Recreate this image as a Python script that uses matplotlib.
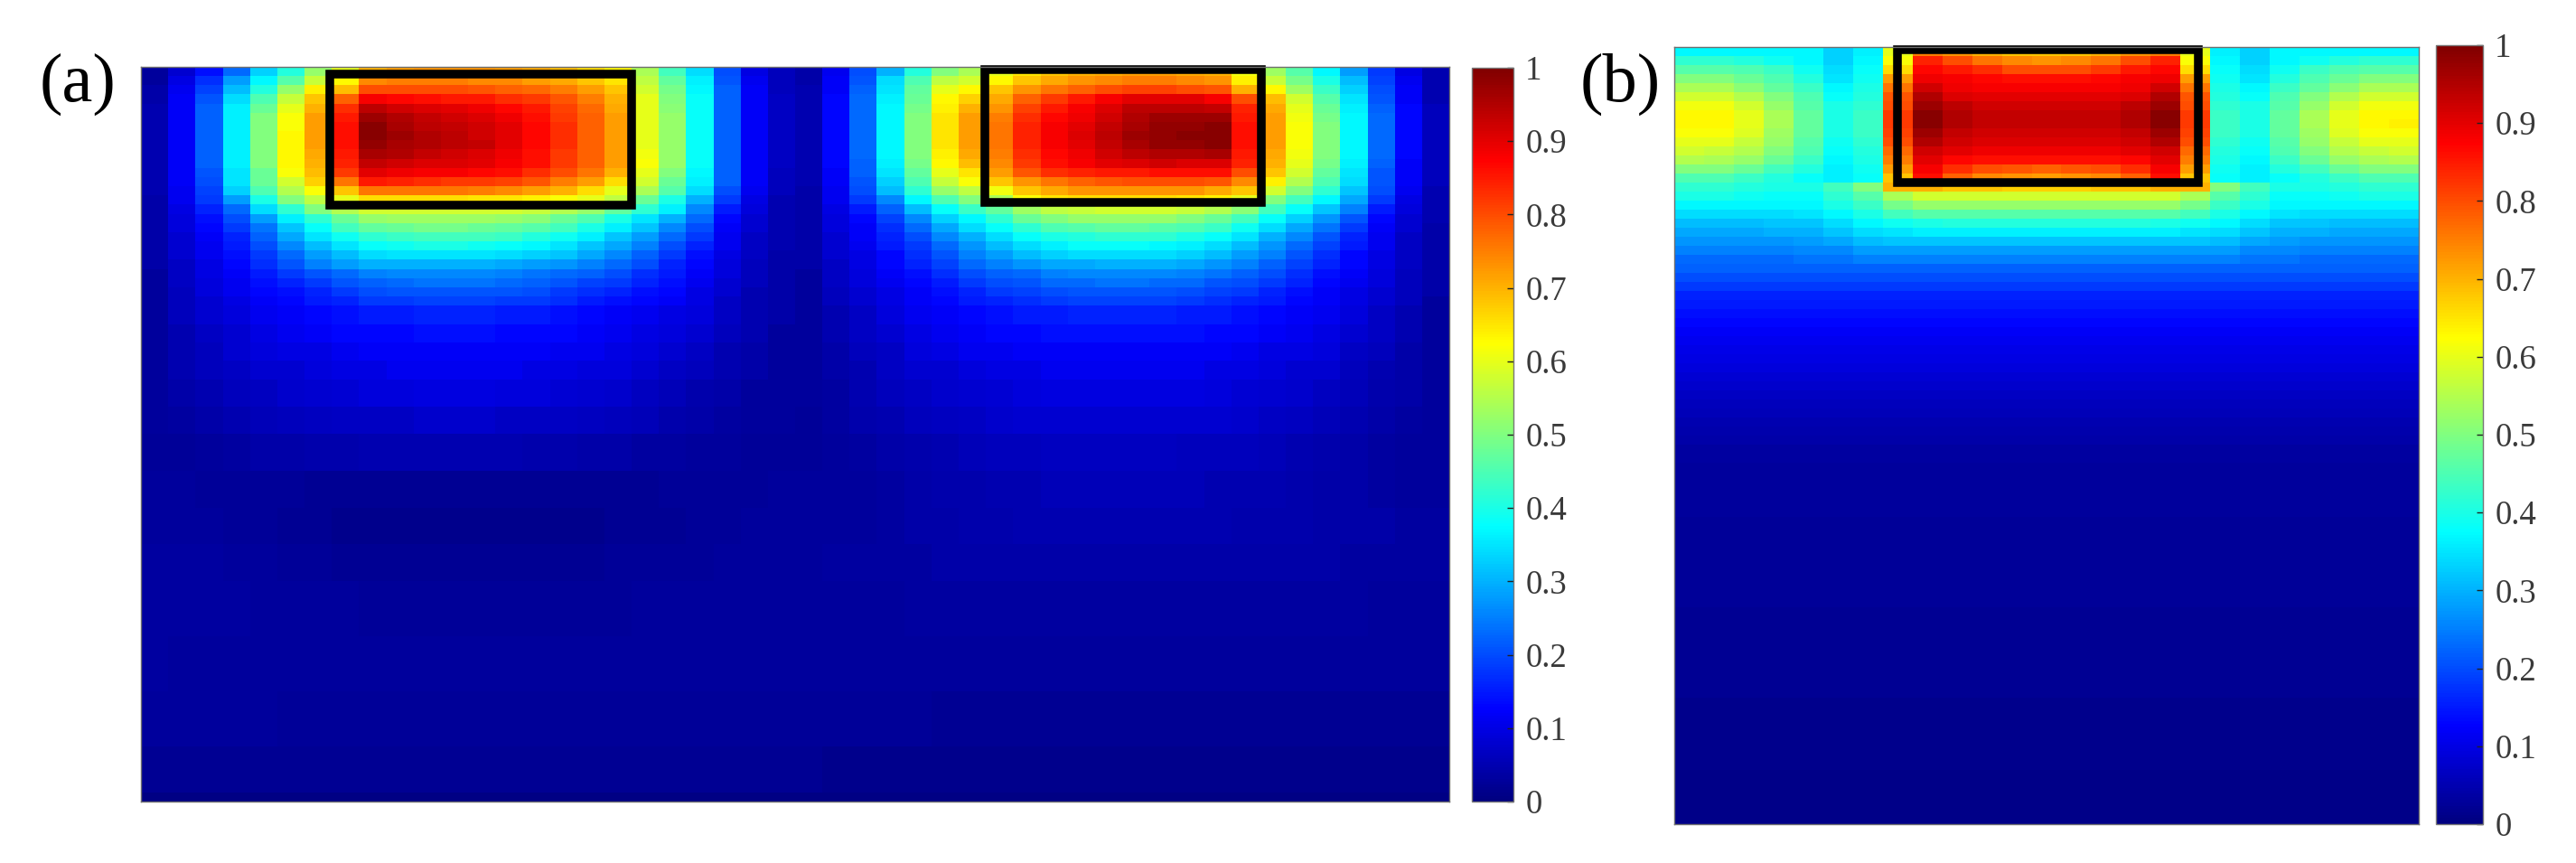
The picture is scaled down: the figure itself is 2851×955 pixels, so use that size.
"""Normalised intensity maps, panels (a) and (b), with the source boxes drawn on top."""

import matplotlib
matplotlib.use("Agg")
import matplotlib.pyplot as plt
import numpy as np
from matplotlib.colors import LinearSegmentedColormap
from matplotlib.patches import Rectangle

W, H = 2851, 955

CBAR_TICKS = [0, 0.1, 0.2, 0.3, 0.4, 0.5, 0.6, 0.7, 0.8, 0.9, 1]
CBAR_LABELS = ["0", "0.1", "0.2", "0.3", "0.4", "0.5", "0.6", "0.7", "0.8", "0.9", "1"]

# row edges of panel a, the rows get coarser with depth
A_ROW_EDGES = list(range(0, 27)) + [28, 30, 32, 34, 37, 40, 44, 48, 52, 56, 62, 68, 74, 79, 80]

# panel a, percent of peak (48 columns)
A_VALUES = [
    [3,8,14,23,33,41,52,60,70,72,73,73,73,72,71,69,66,63,54,44,34,20,10,6,4, 11,20,30,41,50,54,60,65,68,70,71,72,72,71,70,61,53,46,37,28,18,10,5],
    [3,10,17,28,37,46,57,63,74,75,75,75,74,74,72,71,68,65,56,47,36,21,11,6,4, 12,21,34,45,56,58,63,68,71,73,74,75,75,74,73,64,57,49,40,31,19,11,5],
    [4,11,19,31,41,52,64,69,80,80,80,80,79,78,77,75,72,68,58,49,37,22,12,6,5, 12,22,35,47,60,63,68,73,76,78,80,81,81,80,79,70,63,53,43,33,20,12,5],
    [4,12,21,34,45,57,68,78,88,87,86,85,85,83,82,79,75,70,60,50,38,22,12,7,5, 13,23,36,48,63,67,71,78,82,85,88,90,90,90,88,80,69,58,46,35,21,12,5],
    [5,12,22,36,48,60,70,83,94,92,91,90,89,87,85,81,77,71,60,51,38,22,12,7,5, 13,23,37,49,64,70,73,81,85,88,91,94,94,94,93,84,71,60,48,36,22,13,6],
    [5,12,22,36,50,62,72,85,97,95,93,92,91,89,86,82,78,72,60,52,38,22,12,7,5, 13,23,37,50,65,72,75,83,87,89,92,95,97,97,97,85,72,61,49,37,23,13,6],
    [5,12,22,36,50,62,72,86,99,96,94,93,92,90,87,83,78,72,60,52,38,22,12,7,5, 13,23,37,50,65,72,76,84,88,90,93,96,98,98,99,86,72,62,50,37,23,13,6],
    [5,12,22,36,50,63,72,86,99,97,95,94,92,90,87,83,78,72,60,52,38,22,12,7,5, 13,23,37,50,65,72,76,84,88,91,94,97,98,99,99,86,72,62,50,37,23,13,6],
    [5,12,22,36,50,63,72,86,98,96,95,94,93,90,87,83,78,72,60,52,38,22,12,7,5, 13,23,37,50,65,72,76,84,88,90,93,96,98,98,99,86,72,62,50,37,23,13,6],
    [5,12,22,36,50,63,71,85,96,95,93,92,91,89,86,82,78,72,61,52,38,22,12,7,5, 13,23,37,50,64,71,75,83,87,89,92,94,95,95,96,85,71,61,50,37,23,13,6],
    [5,12,22,36,50,63,70,84,93,92,91,91,90,88,86,82,78,72,62,52,38,22,12,7,5, 13,22,36,49,63,69,74,82,86,88,90,91,92,91,91,84,70,60,49,36,22,12,6],
    [5,12,21,35,48,62,69,82,90,89,88,88,87,86,83,80,76,70,60,50,37,22,12,6,5, 12,22,35,47,60,65,72,79,83,84,85,85,86,86,86,80,68,58,47,35,21,12,6],
    [5,12,20,35,48,58,67,76,85,84,83,82,82,81,79,75,72,66,58,48,36,22,12,6,5, 12,21,33,45,57,62,68,73,76,78,79,80,80,80,79,74,64,55,45,34,21,12,6],
    [5,11,19,33,45,55,62,68,76,76,76,76,75,74,72,70,66,60,54,46,34,20,11,6,4, 11,20,31,42,52,56,61,68,71,73,73,73,73,73,71,68,58,50,42,32,20,11,5],
    [4,11,18,28,40,50,56,60,66,66,66,66,65,65,64,62,60,56,48,40,30,18,10,5,4, 11,18,26,37,45,50,54,62,65,66,66,66,66,65,64,60,50,44,37,29,18,10,5],
    [4,10,16,23,34,42,50,55,58,58,58,58,58,58,57,55,52,47,42,36,26,15,9,5,4, 10,15,22,31,38,43,47,53,56,57,58,58,58,57,55,51,44,38,32,25,15,9,5],
    [4,9,14,20,28,36,42,48,52,53,53,53,53,52,51,48,45,40,35,30,23,13,8,5,4, 9,13,19,26,33,37,42,48,50,52,52,52,52,50,48,44,38,33,27,21,13,8,5],
    [4,9,13,18,24,32,38,44,47,48,49,49,48,47,46,44,40,36,32,26,20,12,8,5,4, 9,12,17,23,29,34,38,42,45,46,47,47,46,45,43,39,34,29,24,18,12,8,4],
    [4,8,12,16,22,29,35,39,42,43,44,44,44,43,41,39,36,32,28,23,18,11,7,5,4, 8,12,16,20,26,30,34,38,40,41,42,42,42,40,38,35,30,26,21,16,11,7,4],
    [4,8,11,15,20,26,31,35,38,39,40,40,39,38,37,35,32,29,25,20,16,11,7,5,4, 8,11,15,18,23,27,31,34,36,38,38,38,37,36,34,31,27,23,19,15,11,7,4],
    [4,8,11,14,18,23,28,31,34,35,35,35,35,34,33,32,29,26,22,18,14,10,7,4,4, 8,10,13,17,21,25,28,31,33,34,34,34,34,33,31,28,25,21,17,13,10,7,4],
    [4,7,10,13,17,21,25,28,30,30,30,30,30,29,28,27,25,23,20,16,13,9,6,4,4, 7,10,13,16,19,23,25,27,29,29,30,30,30,29,27,25,22,19,16,13,10,7,4],
    [3,7,10,12,15,18,21,23,25,26,26,26,26,25,24,23,22,20,17,15,12,9,6,4,3, 7,9,12,14,17,20,22,23,25,26,26,26,26,25,24,22,20,17,14,12,9,6,4],
    [3,7,9,11,14,16,18,21,22,23,24,24,24,23,22,21,19,18,16,14,11,8,6,4,3, 7,9,11,13,15,18,20,21,23,23,24,24,23,23,21,20,18,16,13,11,9,6,4],
    [3,6,9,11,13,14,16,18,20,21,21,21,21,21,20,18,17,16,14,13,10,8,5,4,3, 6,8,10,12,14,16,18,19,20,21,21,21,21,20,19,18,16,14,12,10,8,6,4],
    [3,6,8,10,12,13,15,16,18,18,19,19,19,18,18,17,15,14,13,12,10,7,5,4,3, 6,8,10,12,13,15,16,17,18,19,19,19,19,18,17,16,15,13,12,10,8,6,3],
    [3,6,8,9,11,12,13,14,15,15,16,16,16,15,15,14,13,12,11,10,9,7,5,4,3, 5,7,9,11,12,13,14,15,15,16,16,16,16,15,15,14,13,12,11,9,7,5,3],
    [3,5,7,8,10,11,12,13,13,13,14,14,14,13,13,13,12,11,10,9,8,6,5,3,3, 5,7,8,10,11,12,13,13,14,14,14,14,14,14,13,13,12,11,10,8,7,5,3],
    [3,5,6,8,9,10,10,11,12,12,12,12,12,12,12,11,11,10,9,8,7,5,4,3,3, 4,6,7,9,10,11,11,12,12,12,12,12,12,12,12,11,10,10,9,7,6,4,3],
    [3,5,6,7,8,8,9,10,10,11,11,11,11,11,10,10,9,9,8,7,6,5,4,3,3, 4,5,7,8,8,9,10,10,11,11,11,11,11,11,10,10,9,8,8,6,5,4,3],
    [3,4,5,6,6.5,7.5,8,8.5,9,9,9.5,9.5,9.5,9,9,8.5,8,7.5,6.5,5.5,4.5,4,3,3,3, 3.5,5,6,7,7.5,8,8.5,9,9.5,9.5,9.5,9.5,9.5,9.5,9,8.5,8,7.5,6.5,5.5,4.5,4,3],
    [3,3.5,4,5,5.5,6,6.5,7,7,7,7.5,7.5,7.5,7,7,7,6.5,6,5.5,4.5,4,3.5,3,3,2.5, 3.5,4.5,5,6,6.5,7,7.5,8,8,8,8,8,8,8,8,7.5,7,6.5,5.5,5,4,3.5,3],
    [2.5,2.5,3,3.5,4,4,4.5,4.5,5,5,5,5,5,5,4.5,4.5,4,4,3.5,3.5,3,3,2.5,2.5,2.5, 3,3.5,4,4.5,5,5.5,6,6,6.5,6.5,6.5,6.5,6.5,6,6,6,5.5,5,4.5,4,3.5,3,3],
    [3,3,2.5,2.5,2.5,2.5,2,2,2,2,2,2,2,2,2,2,2,2,2,2.5,2.5,2.5,2.5,3,3, 3,3,3.5,4,4.5,4.5,5,5,5.5,5.5,5.5,5.5,5.5,5.5,5,5,5,4.5,4,4,3.5,3,3],
    [3,3,3,2.5,2.5,2,2,1.5,1.5,1.5,1.5,1.5,1.5,1.5,1.5,1.5,1.5,2,2,2,2.5,2.5,3,3,3, 3,3,3.5,4,4,4.5,4.5,5,5,5,5,5,5,5,5,4.5,4.5,4.5,4,4,4,3.5,3.5],
    [3.5,3.5,3.5,3,3,2.5,2.5,2,2,2,2,2,2,2,2,2,2,2.5,2.5,2.5,2.5,3,3,3,3, 3.5,3.5,3.5,3.5,4,4,4,4,4,4,4,4,4,4,4,4,4,4,4,3.5,3.5,3.5,3.5],
    [3.5,3.5,3.5,3.5,3,3,3,3,2.5,2.5,2.5,2.5,2.5,2.5,2.5,2.5,2.5,2.5,3,3,3,3,3,3,3, 3,3,3,3.5,3.5,3.5,3.5,3.5,3.5,3.5,3.5,3.5,3.5,3.5,3.5,3.5,3.5,3.5,3.5,3.5,3,3,3],
    [3.5,3,3,3,3,3,3,3,3,3,3,3,3,3,3,3,3,3,3,3,3,3,3,3,3, 3,3,3,3,3,3,3,3,3,3,3,3,3,3,3,3,3,3,3,3,3,3,3],
    [3,3,3,3,3,2.5,2.5,2.5,2.5,2.5,2.5,2.5,2.5,2.5,2.5,2.5,2.5,2.5,2.5,2.5,2.5,2.5,2.5,2.5,2.5, 2.5,2.5,2.5,2.5,2,2,2,2,2,2,2,2,2,2,2,2,2,2,2,2,2,2,2],
    [2,2,2,2,2,2,2,2,2,2,2,2,2,2,2,2,2,2,2,2,2,2,2,2,2, 1.5,1.5,1.5,1.5,1.5,1.5,1.5,1.5,1.5,1.5,1.5,1.5,1.5,1.5,1.5,1.5,1.5,1.5,1.5,1.5,1.5,1.5,1.5],
    [0.5,0.5,0.5,0.5,0.5,0.5,0.5,0.5,0.5,0.5,0.5,0.5,0.5,0.5,0.5,0.5,0.5,0.5,0.5,0.5,0.5,0.5,0.5,0.5,0.5, 0.5,0.5,0.5,0.5,0.5,0.5,0.5,0.5,0.5,0.5,0.5,0.5,0.5,0.5,0.5,0.5,0.5,0.5,0.5,0.5,0.5,0.5,0.5],
]

# panel b, top rows differ across the 25 columns
B_VALUES = [
    [37,37,37,37,37,33,36,60,75,73,70,68,68,68,70,73,75,60,36,33,37,37,37,37,37],
    [42,42,41,39,37,33,37,62,84,80,76,74,73,74,76,80,84,62,37,33,37,39,41,42,42],
    [46,46,45,43,39,34,38,66,87,85,83,80,80,80,82,85,87,66,38,34,39,43,45,46,46],
    [50,50,48,45,41,35,39,72,89,88,87,86,86,86,87,88,89,72,39,35,41,45,48,50,50],
    [54,54,51,47,43,37,40,76,92,89,88,88,88,88,88,89,92,76,40,37,43,47,51,54,54],
    [58,58,55,50,45,38,41,79,95,91,90,90,90,90,90,91,95,79,41,38,45,50,55,58,58],
    [61,61,58,52,46,40,42,80,97,94,92,92,92,92,92,94,97,80,42,40,46,52,58,61,61],
    [63,63,60,54,47,40,43,82,99,95,93,93,93,93,93,95,99,82,43,40,47,54,60,63,63],
    [63,63,60,54,47,40,43,82,99,95,93,93,93,93,93,95,99,82,43,40,47,54,60,63,64],
    [62,62,59,53,47,40,43,81,97,93,92,92,92,92,92,93,97,81,43,40,47,53,59,62,62],
    [60,60,57,52,46,39,42,80,95,92,91,91,91,91,91,92,95,80,42,39,46,52,57,60,60],
    [58,57,55,50,45,38,41,77,92,90,89,89,89,89,89,90,92,77,41,38,45,50,55,57,58],
    [55,54,52,48,43,37,40,75,90,87,86,86,86,86,86,87,90,75,40,37,43,48,52,54,55],
    [50,50,48,44,41,36,39,72,88,83,80,79,78,79,80,83,88,72,39,36,41,44,48,50,50],
    [45,45,43,41,38,36,38,68,86,78,74,73,72,73,74,78,86,68,38,36,38,41,43,45,45],
    [42,42,41,40,40,44,50,70,70,68,68,67,67,67,68,68,70,70,50,44,40,40,41,42,42],
    [40,40,39,38,38,42,46,54,58,58,58,58,58,58,58,58,58,54,46,42,38,38,39,40,40],
    [37,37,37,37,37,40,43,49,52,52,52,52,52,52,52,52,52,49,43,40,37,37,37,37,37],
    [34,34,34,34,35,37,40,44,46,46,46,46,46,46,46,46,46,44,40,37,35,34,34,34,34],
    [31,31,31,32,32,34,37,39,40,41,41,41,41,41,41,41,40,39,37,34,32,32,31,31,31],
    [29,29,29,30,30,32,34,35,36,36,36,36,36,36,36,36,36,35,34,32,30,30,29,29,29],
    [27,27,27,27,28,29,31,32,32,32,32,32,32,32,32,32,32,32,31,29,28,27,27,27,27],
    [25,25,25,25,26,26,28,28,28,28,28,28,28,28,28,28,28,28,28,26,26,25,25,25,25],
    [23,23,23,23,24,24,25,25,25,25,25,25,25,25,25,25,25,25,25,24,24,23,23,23,23],
]

# panel b below row 24 is flat across the width, one reading per row
B_DEEP = [22, 20, 18, 16, 15, 14, 13, 12, 11, 10.5, 10, 9, 8.5, 7.5, 7, 6, 5.5, 5, 4.5, 4, 3.5,
          3.5, 3, 3, 3, 3, 3, 3, 2.5, 2.5, 2.5, 2.5, 2.5, 2.5, 2.5, 2.5, 2.5, 2.5, 2, 2,
          2, 2, 2, 2, 2, 2, 2, 2, 1.5, 1.5, 1.5, 1.5, 1.5, 1.5, 1.5, 1.5, 1, 1, 1, 1, 1, 1]

# MATLAB jet rather than matplotlib's, the anchors sit on eighths
JET = LinearSegmentedColormap.from_list(
    "matlab_jet",
    [(0, (0, 0, 0.5)), (0.125, (0, 0, 1)), (0.375, (0, 1, 1)),
     (0.625, (1, 1, 0)), (0.875, (1, 0, 0)), (1, (0.5, 0, 0))],
    N=256,
)

plt.rcParams["font.family"] = ["Liberation Serif", "DejaVu Serif"]


def px_axes(fig, left, top, right, bottom):
    return fig.add_axes([left / W, 1 - bottom / H, (right - left) / W, (bottom - top) / H])


def panel(fig, rect, cbar_rect, x_edges, y_edges, z, boxes):
    ax = px_axes(fig, *rect)
    mesh = ax.pcolormesh(x_edges, y_edges, z, cmap=JET, vmin=0, vmax=1, rasterized=True)
    ax.set_xlim(x_edges[0], x_edges[-1])
    ax.set_ylim(y_edges[-1], y_edges[0])
    ax.set_xticks([])
    ax.set_yticks([])
    for s in ax.spines.values():
        s.set_color("#6f6f6f")
        s.set_linewidth(1.0)
    for (x0, x1, y0, y1) in boxes:
        ax.add_patch(Rectangle((x0, y0), x1 - x0, y1 - y0, fill=False, edgecolor="black",
                               linewidth=6.9, joinstyle="miter", clip_on=False))

    cax = px_axes(fig, *cbar_rect)
    cb = fig.colorbar(mesh, cax=cax, ticks=CBAR_TICKS)
    cb.ax.set_yticklabels(CBAR_LABELS)
    cb.ax.tick_params(direction="in", length=5, width=1, color="#222222", pad=9.5,
                      labelsize=26.5, labelcolor="#3a3a3a")
    cb.outline.set_edgecolor("#777777")
    cb.outline.set_linewidth(1.0)


fig = plt.figure(figsize=(W / 100, H / 100), dpi=100)

a = np.array(A_VALUES, dtype=float) / 100
panel(fig, (156, 74, 1604, 887), (1629, 75, 1675, 887),
      np.arange(a.shape[1] + 1), np.array(A_ROW_EDGES), a,
      [(6.93, 18.0, 0.74, 15.1), (30.96, 41.1, 0.34, 14.8)])

b_top = np.array(B_VALUES, dtype=float)
b_deep = np.repeat(np.array(B_DEEP)[:, None], b_top.shape[1], axis=1)
b = np.vstack([b_top, b_deep]) / 100
panel(fig, (1853, 52, 2677, 912), (2696, 50, 2748, 912),
      np.arange(b.shape[1] + 1), np.arange(b.shape[0] + 1), b,
      [(7.49, 17.6, 0.25, 14.95)])

fig.text(44 / W, 1 - 93 / H, "(a)", fontsize=55, color="black", ha="left", va="center")
fig.text(1749 / W, 1 - 93 / H, "(b)", fontsize=55, color="black", ha="left", va="center")

fig.savefig("out.png", dpi=100)
plt.close(fig)
